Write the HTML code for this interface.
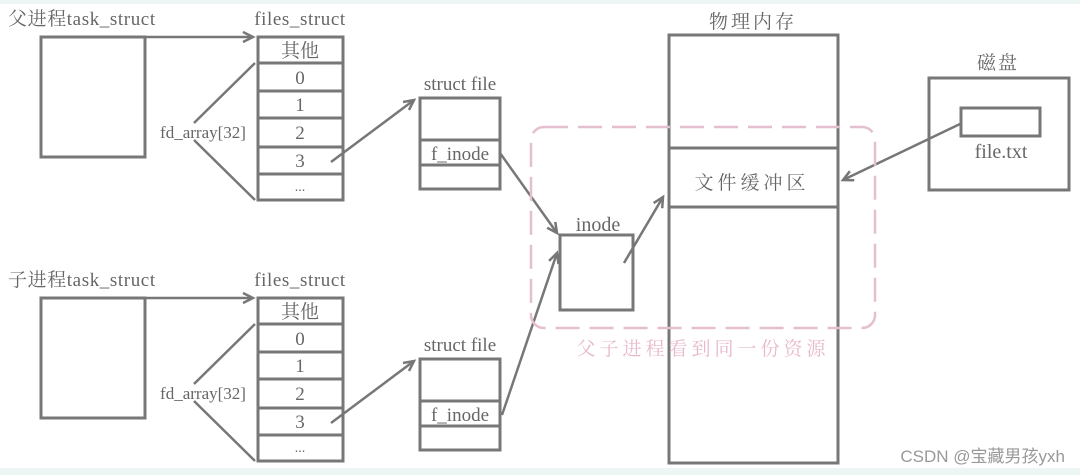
<!DOCTYPE html>
<html><head><meta charset="utf-8"><style>
html,body{margin:0;padding:0;background:#fff;}
body{width:1080px;height:475px;overflow:hidden;position:relative;}
svg{position:absolute;left:0;top:0;}
text{font-family:"Liberation Serif","Noto Serif CJK SC",serif;fill:#666;}
</style></head><body>
<svg width="1080" height="475" viewBox="0 0 1080 475">
<defs>
<marker id="a" markerWidth="14" markerHeight="14" refX="11" refY="7" orient="auto" markerUnits="userSpaceOnUse">
<path d="M1,2 L11,7 L1,12" fill="none" stroke="#777" stroke-width="2.5"/>
</marker>
</defs>
<rect x="0" y="0" width="1080" height="4" fill="#edf5f5"/>
<rect x="0" y="468" width="1080" height="7" fill="#edf5f5"/>
<g fill="none" stroke="#777" stroke-width="3">
<rect x="41" y="37" width="104" height="120"/>
<rect x="258" y="37" width="85" height="163"/>
<path d="M258 63H343M258 91H343M258 118H343M258 147H343M258 174H343"/>
<rect x="420" y="98" width="80" height="91"/>
<path d="M420 140H500M420 165H500"/>
<rect x="41" y="298" width="104" height="120"/>
<rect x="258" y="298" width="85" height="163"/>
<path d="M258 324H343M258 352H343M258 379H343M258 408H343M258 435H343"/>
<rect x="420" y="359" width="80" height="91"/>
<path d="M420 401H500M420 426H500"/>
<rect x="669" y="35" width="169" height="428"/>
<path d="M669 148H838M669 207H838"/>
<rect x="929" y="78" width="140" height="112"/>
<rect x="961" y="108" width="79" height="28"/>
<rect x="560" y="235" width="73" height="75"/>
</g>
<g fill="none" stroke="#777" stroke-width="2.5">
<path d="M194 123L255 63M194 140L255 200"/>
<path d="M194 384L255 324M194 401L255 461"/>
</g>
<g fill="none" stroke="#777" stroke-width="2.5" marker-end="url(#a)">
<path d="M145 37H253"/>
<path d="M145 298H253"/>
<path d="M331 162L414 100"/>
<path d="M331 423L414 361"/>
<path d="M500 153L557 233"/>
<path d="M502 415L557 253"/>
<path d="M624 263L663 197"/>
<path d="M960 124L843 180"/>
</g>
<rect x="531" y="127" width="344" height="201" rx="13" fill="none" stroke="#e5bfcf" stroke-width="2.5" stroke-dasharray="24,10"/>
<g font-size="19">
<text x="8" y="25" letter-spacing="0.6">父进程task_struct</text>
<text x="8" y="286" letter-spacing="0.6">子进程task_struct</text>
<text x="300" y="25" text-anchor="middle" letter-spacing="0.6">files_struct</text>
<text x="300" y="286" text-anchor="middle" letter-spacing="0.6">files_struct</text>
<text x="460" y="90" text-anchor="middle">struct file</text>
<text x="460" y="351" text-anchor="middle">struct file</text>
<text x="203" y="138" text-anchor="middle" font-size="17">fd_array[32]</text>
<text x="203" y="399" text-anchor="middle" font-size="17">fd_array[32]</text>
<g text-anchor="middle">
<text x="300" y="57">其他</text><text x="300" y="84">0</text><text x="300" y="111">1</text><text x="300" y="139">2</text><text x="300" y="167">3</text><text x="300" y="191" font-size="14">...</text>
<text x="300" y="318">其他</text><text x="300" y="345">0</text><text x="300" y="372">1</text><text x="300" y="400">2</text><text x="300" y="428">3</text><text x="300" y="452" font-size="14">...</text>
<text x="460" y="160">f_inode</text>
<text x="460" y="421">f_inode</text>
<text x="753" y="28" letter-spacing="3">物理内存</text>
<text x="752" y="189" letter-spacing="4">文件缓冲区</text>
<text x="998" y="69" letter-spacing="2">磁盘</text>
<text x="1001" y="158" font-size="20">file.txt</text>
<text x="598" y="231" font-size="20">inode</text>
<text x="703" y="355" font-size="19" letter-spacing="4" style="fill:#e8b8cc">父子进程看到同一份资源</text>
</g>
<text x="1065" y="462" text-anchor="end" font-size="17" style="font-family:'Liberation Sans','Noto Sans CJK SC',sans-serif;fill:#999">CSDN @宝藏男孩yxh</text>
</g>
</svg>
</body></html>
